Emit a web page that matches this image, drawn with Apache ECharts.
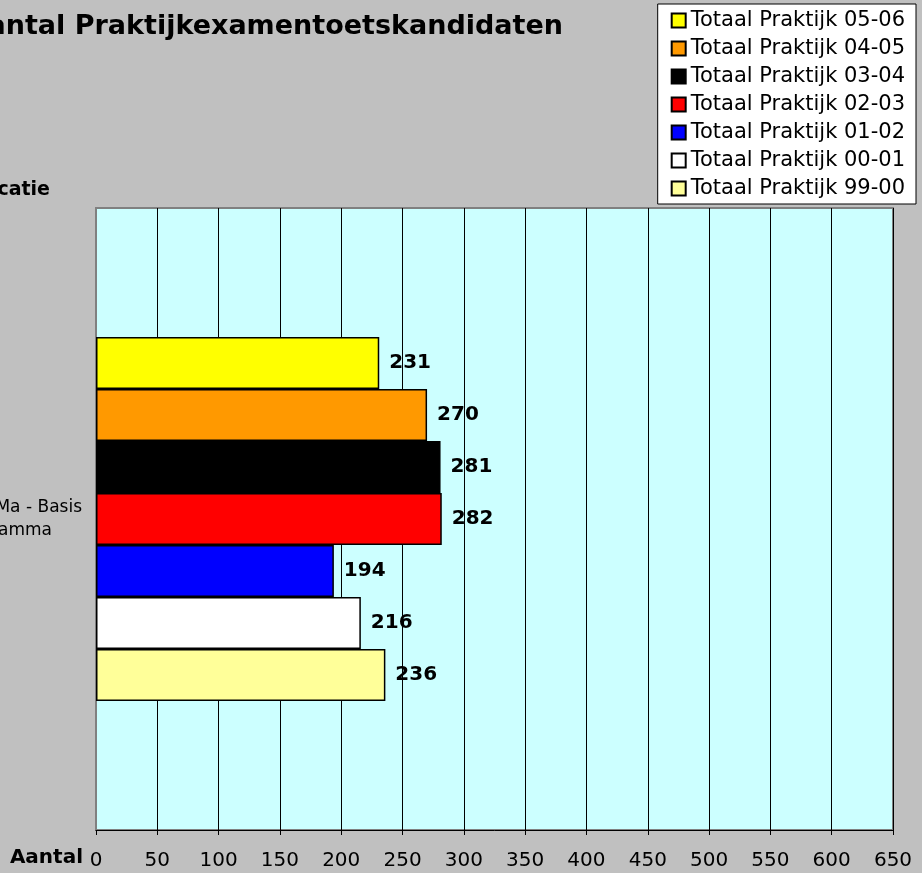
<!DOCTYPE html>
<html>
<head>
<meta charset="utf-8">
<script src="https://cdn.jsdelivr.net/npm/echarts@6/dist/echarts.min.js"></script>
<style>
  html, body { margin: 0; padding: 0; background: #c0c0c0; }
  #chart { width: 922px; height: 873px; }
</style>
</head>
<body>
<div id="chart"></div>
<script>
// categorie (links afgesneden in het origineel)
var categories = ['Ma - Basis\namma'];
// seizoenen, van boven naar beneden zoals in de legenda
var seriesNames = ['Totaal Praktijk 05-06', 'Totaal Praktijk 04-05', 'Totaal Praktijk 03-04',
                   'Totaal Praktijk 02-03', 'Totaal Praktijk 01-02', 'Totaal Praktijk 00-01',
                   'Totaal Praktijk 99-00'];
var seriesValues = [231, 270, 281, 282, 194, 216, 236];
var seriesColors = ['#ffff00', '#ff9900', '#000000', '#ff0000', '#0000ff', '#ffffff', '#ffff99'];
var xTicks = { min: 0, max: 650, step: 50 };

var font = 'DejaVu Sans, Verdana, sans-serif';

var series = [];
for (var i = 0; i < seriesNames.length; i++) {
	series.push({
		name: seriesNames[i],
		type: 'bar',
		data: [seriesValues[i]],
		barGap: '0%',
		barCategoryGap: '41.5%',
		itemStyle: { color: seriesColors[i], borderColor: '#000', borderWidth: 1.5 },
		label: {
			show: true, position: 'right', distance: 10,
			color: '#000', fontFamily: font, fontWeight: 'bold', fontSize: 20
		}
	});
}

var chart = echarts.init(document.getElementById('chart'));
chart.setOption({
	backgroundColor: '#c0c0c0',
	animation: false,
	textStyle: { fontFamily: font },
	graphic: [
		{ type: 'text', x: 563, y: 27,
		  style: { text: 'Aantal Praktijkexamentoetskandidaten', textAlign: 'right', textVerticalAlign: 'middle',
		           font: 'bold 27px ' + font, fill: '#000' } },
		{ type: 'text', x: 50, y: 190,
		  style: { text: 'Kwalificatie', textAlign: 'right', textVerticalAlign: 'middle',
		           font: 'bold 19px ' + font, fill: '#000' } }
	],
	legend: {
		orient: 'vertical',
		right: 6, top: 4,
		data: seriesNames,
		backgroundColor: '#fff',
		borderColor: '#000',
		borderWidth: 1,
		padding: [6, 11, 5, 13],
		itemGap: 7,
		itemWidth: 14, itemHeight: 14,
		icon: 'rect',
		itemStyle: { borderColor: '#000', borderWidth: 2 },
		textStyle: { fontFamily: font, fontSize: 21, color: '#000' }
	},
	grid: {
		left: 96, right: 29, top: 208, bottom: 43,
		outerBoundsMode: 'none', containLabel: false,
		show: true, backgroundColor: '#ccffff', borderColor: '#808080', borderWidth: 2
	},
	xAxis: {
		type: 'value',
		min: xTicks.min, max: xTicks.max, interval: xTicks.step,
		name: 'Aantal', nameLocation: 'start', nameGap: 13,
		nameTextStyle: { fontFamily: font, fontWeight: 'bold', fontSize: 20, color: '#000',
		                 verticalAlign: 'top', padding: [18, 0, 0, 0] },
		axisLine: { show: true, lineStyle: { color: '#000', width: 1 } },
		axisTick: { show: true, length: 5, lineStyle: { color: '#000' } },
		axisLabel: { fontFamily: font, fontSize: 20, color: '#000', margin: 21 },
		splitLine: { show: true, lineStyle: { color: '#000', width: 1 } }
	},
	yAxis: {
		type: 'category',
		data: categories,
		axisLine: { show: true, lineStyle: { color: '#808080', width: 2 } },
		axisTick: { show: false },
		axisLabel: {
			margin: 14,
			formatter: function (v) {
				var parts = v.split('\n');
				return '{a|' + parts[0] + '}\n{a|' + parts[1] + '}{s|}';
			},
			rich: {
				a: { fontFamily: font, fontSize: 17, color: '#000', lineHeight: 23 },
				s: { width: 30, lineHeight: 23 }
			}
		}
	},
	series: series
});
</script>
</body>
</html>
